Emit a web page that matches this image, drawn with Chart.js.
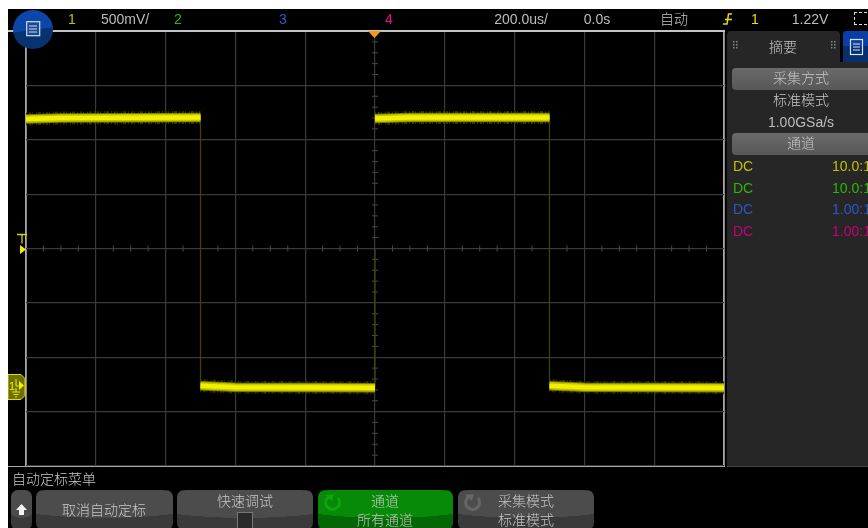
<!DOCTYPE html>
<html><head><meta charset="utf-8">
<script src="https://cdn.jsdelivr.net/npm/chart.js@4"></script>
<style>
html,body{margin:0;padding:0;background:#fff;width:868px;height:528px;overflow:hidden}
#stage{position:absolute;left:0;top:0;width:868px;height:528px;overflow:hidden;font-family:"Liberation Sans","Noto Sans CJK SC",sans-serif}
#bg{position:absolute;left:8px;top:9px;width:860px;height:519px;background:#000}
canvas{position:absolute;left:0;top:0}
.t{position:absolute;white-space:nowrap;line-height:16px;height:16px;font-size:14px;color:#bdbdbd;transform:translateX(-50%)}
.l{transform:none}
.cjk{font-family:"Noto Sans CJK SC",sans-serif;font-size:14px;color:#c8c8c8;font-weight:300}
.box{position:absolute}
.btn{position:absolute;top:490px;height:40px;border-radius:7px;background:radial-gradient(ellipse 75% 38% at 50% 32%,#4c4c4c 98%,#3a3a3a 100%);border:0}
.grn{background:radial-gradient(ellipse 75% 38% at 50% 32%,#078a07 98%,#056605 100%)}
.pbtn{position:absolute;left:732px;width:140px;height:22px;border-radius:4px;background:linear-gradient(#6a6a6a,#575757)}
</style></head>
<body><div id="stage">
<div id="bg"></div>
<canvas id="c" width="868" height="528"></canvas>
<!-- frame lines -->
<div class="box" style="left:8px;top:30px;width:717px;height:1.5px;background:#c4c4c4"></div>
<div class="box" style="left:8px;top:465.5px;width:717px;height:1.5px;background:#a8a8a8"></div>
<!-- side panel -->
<div class="box" style="left:727px;top:62px;width:141px;height:404px;background:#262626;border-bottom:1px solid #444"></div>
<div class="box" style="left:727px;top:31px;width:113px;height:31px;background:#262626;border-radius:4px 4px 0 0"></div>
<div class="box" style="left:843px;top:31px;width:27px;height:31px;background:linear-gradient(#0a3fa6 50%,#072f6e 50%);border-radius:3px 3px 0 0"></div>
<svg class="box" style="left:849px;top:38px" width="15" height="18"><rect x="1.5" y="1.5" width="12" height="15" fill="none" stroke="#d8e4f4" stroke-width="1.2"/><path d="M4 6h7M4 9h7M4 12h7" stroke="#d8e4f4" stroke-width="1.2"/></svg>
<div class="t cjk" style="left:783px;top:38px">摘要</div>
<svg class="box" style="left:733px;top:40px" width="110" height="12"><g fill="#888"><rect x="0" y="1" width="1.5" height="1.5"/><rect x="3" y="1" width="1.5" height="1.5"/><rect x="0" y="4" width="1.5" height="1.5"/><rect x="3" y="4" width="1.5" height="1.5"/><rect x="0" y="7" width="1.5" height="1.5"/><rect x="3" y="7" width="1.5" height="1.5"/><rect x="98" y="1" width="1.5" height="1.5"/><rect x="101" y="1" width="1.5" height="1.5"/><rect x="98" y="4" width="1.5" height="1.5"/><rect x="101" y="4" width="1.5" height="1.5"/><rect x="98" y="7" width="1.5" height="1.5"/><rect x="101" y="7" width="1.5" height="1.5"/></g></svg>
<div class="pbtn" style="top:68px"></div>
<div class="t cjk" style="left:801px;top:69px">采集方式</div>
<div class="t cjk" style="left:801px;top:91px">标准模式</div>
<div class="t" style="left:801px;top:114px">1.00GSa/s</div>
<div class="pbtn" style="top:133px"></div>
<div class="t cjk" style="left:801px;top:134px">通道</div>
<div class="t l" style="left:733px;top:158px;color:#c0c000">DC</div>
<div class="t l" style="left:832px;top:158px;color:#c0c000">10.0:1</div>
<div class="t l" style="left:733px;top:180px;color:#2ab800">DC</div>
<div class="t l" style="left:832px;top:180px;color:#2ab800">10.0:1</div>
<div class="t l" style="left:733px;top:201px;color:#2c58c8">DC</div>
<div class="t l" style="left:832px;top:201px;color:#2c58c8">1.00:1</div>
<div class="t l" style="left:733px;top:223px;color:#c80078">DC</div>
<div class="t l" style="left:832px;top:223px;color:#c80078">1.00:1</div>
<!-- top bar -->
<div class="t" style="left:72px;top:11px;color:#c0c000">1</div>
<div class="t" style="left:125px;top:11px">500mV/</div>
<div class="t" style="left:178px;top:11px;color:#2ab800">2</div>
<div class="t" style="left:283px;top:11px;color:#2c58c8">3</div>
<div class="t" style="left:389px;top:11px;color:#e0108f">4</div>
<div class="t" style="left:521px;top:11px">200.0us/</div>
<div class="t" style="left:597px;top:11px">0.0s</div>
<div class="t cjk" style="left:674px;top:10px">自动</div>
<svg class="box" style="left:722px;top:12px" width="11" height="14"><path d="M1 12h4L6.500 2H10M3 7.500h7" fill="none" stroke="#e8e000" stroke-width="1.500"/></svg>
<div class="t" style="left:755px;top:11px;color:#e8e000">1</div>
<div class="t" style="left:810px;top:11px">1.22V</div>
<div class="box" style="left:854px;top:12px;width:16px;height:11px;border:1px dashed #ddd"></div>
<!-- round menu button -->
<div class="box" style="left:13px;top:10px;width:40px;height:39px;border-radius:50%;background:linear-gradient(172deg,#0b46a8 50%,#07336f 52%)"></div>
<svg class="box" style="left:26px;top:21px" width="15" height="16"><rect x=".7" y=".7" width="13" height="14" fill="#1a4a92" stroke="#cfdcf0" stroke-width="1.200"/><path d="M3 5h8M3 8h8M3 11h8" stroke="#cfdcf0" stroke-width="1.200"/></svg>
<!-- trigger time marker -->
<svg class="box" style="left:368px;top:31px" width="14" height="8"><path d="M0 0h13L6.500 7z" fill="#f39a1e"/></svg>
<!-- trigger level marker -->
<svg class="box" style="left:15px;top:232px" width="12" height="24"><path d="M2 2.500h10M7 2.500v9" stroke="#d4d400" stroke-width="1.300" fill="none"/><path d="M5 13l6 4.500-6 4.500z" fill="#f0f000"/></svg>
<!-- channel 1 ground marker -->
<svg class="box" style="left:8px;top:374px" width="18" height="27"><path d="M0 0.500h13l4 4v17l-4 4H0z" fill="#6f6f00" stroke="#e0e000"/><path d="M11 7l5 4.500-5 4.500z" fill="#f0f000"/><path d="M8 5v7M8 12h3M8 14v4M4 18h8M5.500 20.500h5M7 23h2" stroke="#e8e800" stroke-width="1.100" fill="none"/></svg>
<div class="t" style="left:12px;top:378px;color:#f0f000;font-size:11px">1</div>
<!-- softkey bar -->
<div class="t cjk l" style="left:12px;top:470px">自动定标菜单</div>
<div class="btn" style="left:11px;width:21px"></div>
<svg class="box" style="left:15px;top:503px" width="13" height="13"><path d="M6.500 1L12 7H9v5H4V7H1z" fill="#f4f4f4"/></svg>
<div class="btn" style="left:36px;width:137px"></div>
<div class="t cjk" style="left:104px;top:501px">取消自动定标</div>
<div class="btn" style="left:177px;width:136px"></div>
<div class="t cjk" style="left:245px;top:492px">快速调试</div>
<div class="box" style="left:237px;top:512px;width:14px;height:16px;background:#2a2a2a;border:1px solid #777"></div>
<div class="btn grn" style="left:318px;width:135px"></div>
<svg class="box" style="left:322px;top:493px" width="22" height="20"><path d="M8 3a7 7 0 1 0 8 2" fill="none" stroke="#0fa30f" stroke-width="3"/><path d="M3 2l9-1-2 7z" fill="#0fa30f"/></svg>
<div class="t cjk" style="left:385px;top:492px">通道</div>
<div class="t cjk" style="left:385px;top:511px">所有通道</div>
<div class="btn" style="left:458px;width:136px"></div>
<svg class="box" style="left:462px;top:493px" width="22" height="20"><path d="M8 3a7 7 0 1 0 8 2" fill="none" stroke="#666" stroke-width="3"/><path d="M3 2l9-1-2 7z" fill="#666"/></svg>
<div class="t cjk" style="left:526px;top:492px">采集模式</div>
<div class="t cjk" style="left:526px;top:511px">标准模式</div>
</div>
<script>
// time axis: 200 us/div, voltage axis: 500 mV/div
const timeTicks = [-1000,-800,-600,-400,-200,0,200,400,600,800,1000];
const voltTicks = [-0.75,-0.25,0.25,0.75,1.25,1.75,2.25,2.75,3.25];
const centreVolt = 1.25;
const centreTime = 0;
// channel 1 square wave, level (null = pen up)
const traceTimes = [-1000,-900,-500,-500,-500,-400,0,0,0,100,500,500,500,600,1000];
const traceVolts = [2.44,2.45,2.455,null,-0.012,-0.025,-0.03,null,2.445,2.455,2.455,null,-0.012,-0.025,-0.03];
// dim switching edges
const edgeTimes = [-500,-500,null,0,0,null,500,500];
const edgeVolts = [2.45,-0.02,null,-0.03,1.25,null,2.45,-0.02];
// centre-line graticule marks
const minorTimes = [-950,-900,-850,-750,-700,-650,-550,-500,-450,-350,-300,-250,-150,-100,-50,50,100,150,250,300,350,450,500,550,650,700,750,850,900,950];
const minorVolts = [-0.65,-0.55,-0.45,-0.35,-0.15,-0.05,0.05,0.15,0.35,0.45,0.55,0.65,0.85,0.95,1.05,1.15,1.35,1.45,1.55,1.65,1.85,1.95,2.05,2.15,2.35,2.45,2.55,2.65,2.85,2.95,3.05,3.15];

const pts = (xs, ys) => xs.map((x, i) => ({x: x === null ? NaN : x, y: ys[i]}));
const traceLayer = (color, width, dash) => ({
  data: pts(traceTimes, traceVolts), showLine: true, pointRadius: 0, borderColor: color, borderWidth: width,
  borderDash: dash || [], borderCapStyle: 'butt', spanGaps: false, tension: 0
});
const isEdge = c => c.index === 0 || c.index === c.scale.ticks.length - 1;

new Chart(document.getElementById('c'), {
  type: 'scatter',
  data: { datasets: [
    traceLayer('#f0f000', 4.5),
    traceLayer('#c4c400', 7.5),
    traceLayer('#7a7a00', 9.5),
    traceLayer('#333300', 13, [1,2,2,1,1,3,1,1,3,2]),
    { data: pts(edgeTimes, edgeVolts), showLine: true, pointRadius: 0, borderColor: '#444400', borderWidth: 1.2, spanGaps: false },
    { data: minorTimes.map(t => ({x: t, y: centreVolt})), pointStyle: 'line', rotation: 90, pointRadius: 3, pointBorderColor: '#484848', pointBorderWidth: 1, showLine: false },
    { data: minorVolts.map(v => ({x: centreTime, y: v})), pointStyle: 'line', rotation: 0, pointRadius: 3, pointBorderColor: '#484848', pointBorderWidth: 1, showLine: false }
  ]},
  options: {
    responsive: false, animation: false, devicePixelRatio: 1,
    layout: { padding: { left: 26, top: 31, right: 144, bottom: 62 } },
    plugins: { legend: { display: false }, tooltip: { enabled: false } },
    scales: {
      x: { type: 'linear', min: -1000, max: 1000,
        afterBuildTicks: s => { s.ticks = timeTicks.map(v => ({value: v})); },
        ticks: { display: false }, border: { display: false },
        grid: { color: c => isEdge(c) ? '#a8a8a8' : '#3a3a3a', lineWidth: c => isEdge(c) ? 1.8 : 1.2, drawTicks: false } },
      y: { type: 'linear', min: -0.75, max: 3.25,
        afterBuildTicks: s => { s.ticks = voltTicks.map(v => ({value: v})); },
        ticks: { display: false }, border: { display: false },
        grid: { color: '#3a3a3a', lineWidth: 1.2, drawTicks: false } }
    }
  }
});
</script>
</body></html>
